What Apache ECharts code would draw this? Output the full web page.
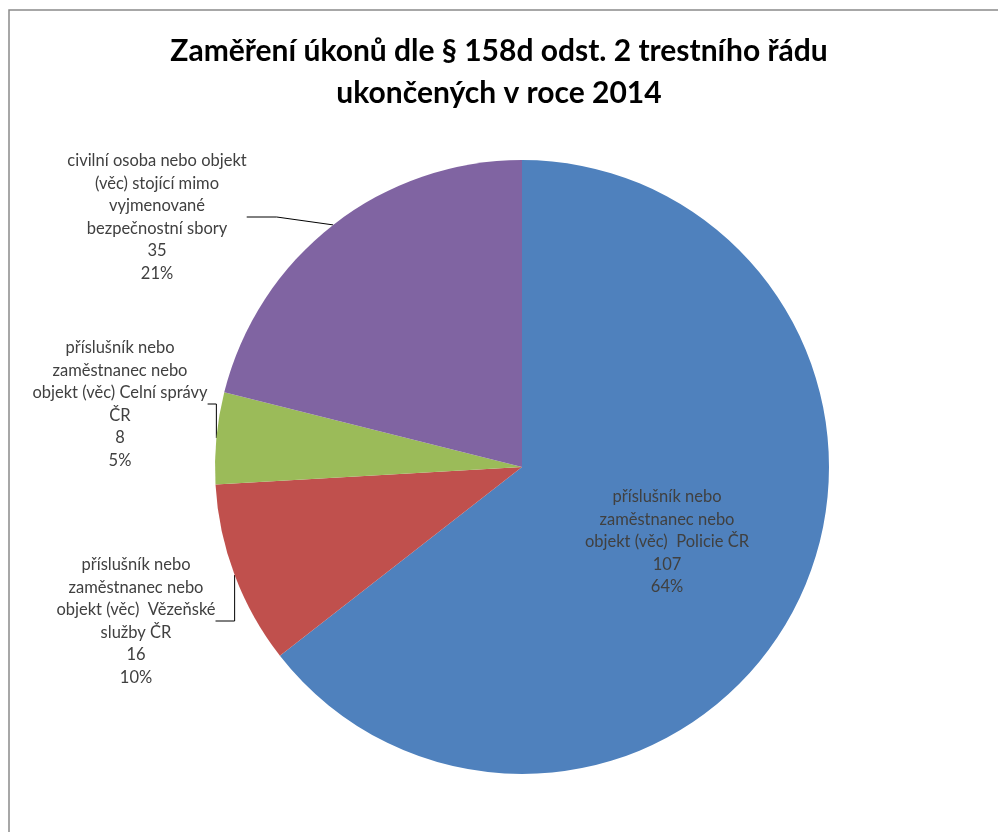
<!DOCTYPE html>
<html>
<head>
<meta charset="utf-8">
<script src="https://cdn.jsdelivr.net/npm/echarts@6/dist/echarts.min.js"></script>
<style>
  html, body { margin: 0; padding: 0; background: #fff; }
  #chartPie { width: 998px; height: 832px; }
</style>
</head>
<body>
<div id="chartPie"></div>
<script>
  'use strict'

  /******************** DATA ********************/
  var categories = [
    'příslušník nebo\nzaměstnanec nebo\nobjekt (věc)  Policie ČR',
    'příslušník nebo\nzaměstnanec nebo\nobjekt (věc)  Vězeňské\nslužby ČR',
    'příslušník nebo\nzaměstnanec nebo\nobjekt (věc) Celní správy\nČR',
    'civilní osoba nebo objekt\n(věc) stojící mimo\nvyjmenované\nbezpečnostní sbory'
  ];
  var values = [107, 16, 8, 35];
  var colors = ['#4f81bd', '#c0504d', '#9bbb59', '#8064a2'];

  // where each data label sits (centre of text block)
  var labelPos = [[667, 542], [136, 621], [120, 404], [157, 217]];

  var pieData = categories.map(function (name, i) {
    return {
      name: name,
      value: values[i],
      itemStyle: { color: colors[i] },
      labelLine: { show: i !== 0 }
    };
  });

  var chart = echarts.init(document.getElementById('chartPie'));

  var option = {
    animation: false,
    title: {
      text: 'Zaměření úkonů dle § 158d odst. 2 trestního řádu\nukončených v roce 2014',
      left: 'center',
      top: 25,
      textStyle: {
        fontFamily: 'Lato',
        fontSize: 30,
        fontWeight: 'bold',
        color: '#000',
        lineHeight: 42
      }
    },
    graphic: [{
      type: 'rect',
      shape: { x: 9, y: 10, width: 1000, height: 840 },
      style: { fill: 'none', stroke: '#8a8a8a', lineWidth: 1.5 },
      silent: true
    }],
    series: [{
      type: 'pie',
      center: [522, 467],
      radius: 307,
      startAngle: 90,
      clockwise: true,
      percentPrecision: 0,
      data: pieData,
      itemStyle: { borderWidth: 0 },
      label: {
        show: true,
        formatter: '{b}\n{c}\n{d}%',
        fontFamily: 'Lato',
        fontSize: 16.5,
        lineHeight: 22.5,
        color: '#404040',
        align: 'center',
        overflow: 'none'
      },
      labelLine: {
        show: true,
        lineStyle: { color: '#000', width: 1 }
      },
      labelLayout: function (params) {
        var p = labelPos[params.dataIndex];
        return {
          x: p[0],
          y: p[1],
          align: 'center',
          verticalAlign: 'middle'
        };
      },
      emphasis: { disabled: true }
    }]
  };

  chart.setOption(option);
</script>
</body>
</html>
